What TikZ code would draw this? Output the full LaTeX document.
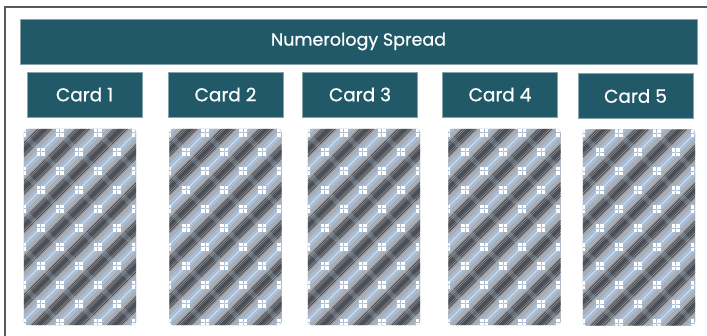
\documentclass[tikz,border=0pt]{standalone}
\usepackage{fontspec}
\setmainfont{Poppins}
\newfontfamily\labelfont[FakeBold=0.7]{Poppins}
\usetikzlibrary{positioning}
\definecolor{tealbar}{HTML}{215968}
\definecolor{plaidgray}{HTML}{979BA1}
\definecolor{plaidmid}{HTML}{ABAFB5}
\definecolor{plaiddark}{HTML}{4B4F55}
\definecolor{plaidblue}{HTML}{A8BCD4}
\definecolor{framegray}{HTML}{5A5A5A}

% plaid card back, drawn inside the node given as #1
\newcommand{\plaidback}[1]{%
  \begin{scope}
    \clip[rounded corners=4] (#1.south west) rectangle (#1.north east);
    \begin{scope}[shift={(#1.north west)}]
      \fill[plaidgray] (-5,-5) rectangle (120,205);
      \foreach \k in {-1,...,9} {
        \pgfmathsetmacro\cc{2+38*\k}
        \draw[plaidblue, line width=8] (\cc+20,-20) -- (\cc-220,220);
        \draw[plaidmid, line width=2.5] (\cc+8+20,-20) -- (\cc+8-220,220);
        \draw[plaidmid, line width=2.5] (\cc-8+20,-20) -- (\cc-8-220,220);
        \draw[plaiddark, line width=4] (\cc+19+20,-20) -- (\cc+19-220,220);
        \foreach \d in {12.5,15,23,25.5}
          \draw[plaiddark, line width=0.9] (\cc+\d+20,-20) -- (\cc+\d-220,220);
        \draw[white, opacity=.5, line width=1] (\cc+20,-20) -- (\cc-220,220);
      }
      \foreach \m in {-6,...,4} {
        \pgfmathsetmacro\ee{-6+38*\m}
        \draw[plaidblue, opacity=.25, line width=5] (\ee-20,-20) -- (\ee+220,220);
      }
      % white dots where the light bands cross
      \foreach \b in {0,...,11} {
        \pgfmathsetmacro\s{mod(\b,2)}
        \foreach \a in {0,...,3} {
          \pgfmathsetmacro\px{-2+19*\s+38*\a}
          \pgfmathsetmacro\py{4+19*\b}
          \foreach \dx/\dy in {-1/-1,1/-1,-1/1,1/1}
            \fill[white] (\px+2.3*\dx-1.8,\py+2.3*\dy-1.8) rectangle ++(3.6,3.6);
        }
      }
    \end{scope}
  \end{scope}
}

\begin{document}
\begin{tikzpicture}[x=1pt, y=-1pt,
    bar/.style={draw=tealbar!55!white, line width=0.6, fill=tealbar, text=white, rectangle, inner sep=0},
    cardback/.style={rectangle, minimum width=112, minimum height=196, inner sep=0}]
    \useasboundingbox (0,0) rectangle (707,336);
    \draw[framegray, line width=1.2] (5,336) -- (5,7) -- (707,7);

    \node (title) [bar, minimum width=677, minimum height=45, font=\labelfont\fontsize{17.5}{20}\selectfont] at (358.5,41.5) {Numerology Spread};

    \foreach \i/\lx/\ly/\bx/\by in {1/84.5/94.5/80/227, 2/225.5/94.5/225.5/227, 3/360/94.5/364/227, 4/500/94.5/504.5/227, 5/635.5/96/639/227.5} {
        \node (label\i) [bar, minimum width=115, minimum height=45, font=\labelfont\fontsize{18.5}{21}\selectfont] at (\lx,\ly) {Card \i};
        \node (back\i) [cardback] at (\bx,\by) {};
        \plaidback{back\i}
    }
\end{tikzpicture}
\end{document}
